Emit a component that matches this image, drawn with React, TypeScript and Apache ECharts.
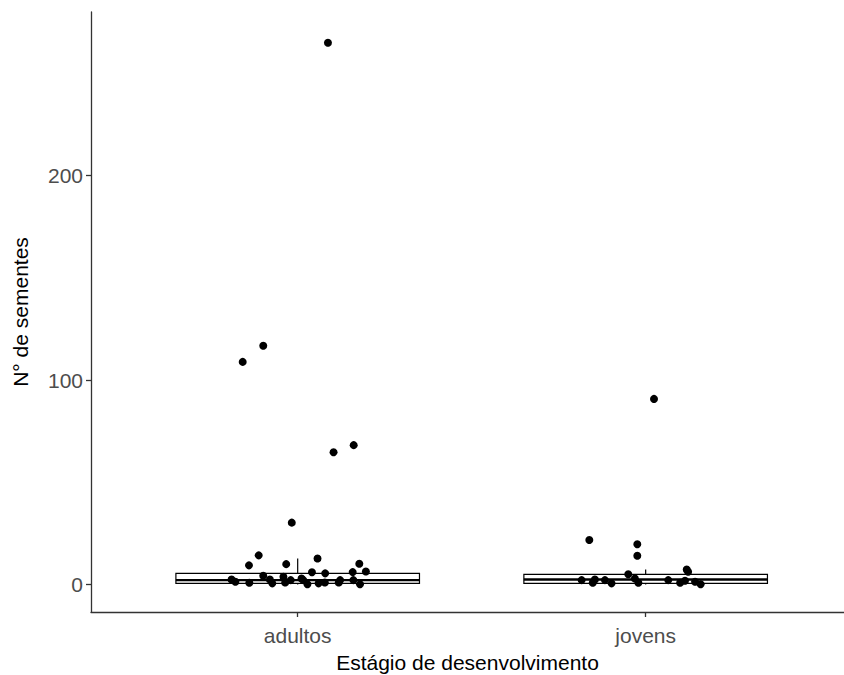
import React, { useEffect, useRef } from "react";
import * as echarts from "echarts";

const categories = ["adultos", "jovens"];
const yTicks = [0, 100, 200];

// box stats per category: [lowerWhisker, q1, median, q3, upperWhisker]
const boxStats = [
  [0, 0.6, 2.2, 5.5, 12.8],
  [0, 0.6, 2.5, 5.0, 7.4],
];

// jittered points: [x, value]
const adultosPoints = [
  [1.087, 265], [0.901, 116.8], [0.842, 108.9], [1.103, 64.7], [1.161, 68.2],
  [0.983, 30.3], [0.888, 14.3], [0.86, 9.4], [0.967, 10.0], [1.057, 12.8],
  [1.177, 10.2], [1.196, 6.4], [1.041, 6.0], [1.079, 5.5], [1.158, 6.1],
  [0.901, 4.3], [0.821, 1.4], [0.861, 0.9], [0.927, 0.6], [0.964, 1.0],
  [0.98, 2.2], [1.016, 2.2], [1.028, 0.2], [1.06, 0.6], [1.078, 1.0],
  [1.118, 1.0], [1.16, 2.2], [1.179, 0.2], [0.92, 2.5], [0.959, 3.8],
  [1.011, 3.0], [0.81, 2.5], [1.122, 2.2],
];
const jovensPoints = [
  [2.024, 90.8], [1.838, 21.8], [1.976, 19.7], [1.976, 14.1], [2.118, 7.4],
  [2.122, 6.3], [1.95, 5.1], [1.816, 2.2], [1.848, 0.9], [1.854, 2.5],
  [1.883, 2.2], [1.902, 0.6], [1.979, 0.9], [1.969, 3.0], [2.065, 2.2],
  [2.099, 0.9], [2.113, 1.9], [2.142, 1.4], [2.158, 0.2],
];

const BOX_HALF = 0.35;
const FONT = "Liberation Sans";

export default function App() {
  const ref = useRef<HTMLDivElement>(null);
  useEffect(() => {
    document.body.style.margin = "0";
    const chart = echarts.init(ref.current!, null, { renderer: "svg" });
    const boxData = boxStats.map((s, i) => [i + 1, ...s]);
    chart.setOption({
      animation: false,
      backgroundColor: "#ffffff",
      grid: { left: 91, right: 0, top: 12, bottom: 63, containLabel: false, outerBoundsMode: "none" },
      xAxis: {
        type: "value",
        min: 0.406,
        max: 2.57,
        name: "Estágio de desenvolvimento",
        nameLocation: "middle",
        nameGap: 40,
        nameTextStyle: { color: "#000", fontSize: 21, fontFamily: FONT },
        axisLine: { show: true, onZero: false, lineStyle: { color: "#333", width: 1.3 } },
        axisTick: { show: true, length: 5, customValues: [1, 2], lineStyle: { color: "#333", width: 1.3 } },
        axisLabel: {
          customValues: [1, 2],
          formatter: (v: number) => categories[Math.round(v) - 1] ?? "",
          color: "#4d4d4d",
          fontSize: 21,
          margin: 13,
          fontFamily: FONT,
        },
        splitLine: { show: false },
      },
      yAxis: {
        type: "value",
        min: -13.4,
        max: 280,
        name: "N° de sementes",
        nameLocation: "middle",
        nameGap: 60,
        nameRotate: 90,
        nameTextStyle: { color: "#000", fontSize: 21, fontFamily: FONT },
        axisLine: { show: true, onZero: false, lineStyle: { color: "#333", width: 1.3 } },
        axisTick: { show: true, length: 5, customValues: yTicks, lineStyle: { color: "#333", width: 1.3 } },
        axisLabel: {
          customValues: yTicks,
          color: "#4d4d4d",
          fontSize: 21,
          margin: 8,
          fontFamily: FONT,
        },
        splitLine: { show: false },
      },
      series: [
        {
          type: "custom",
          data: boxData,
          z: 1,
          renderItem: (params: any, api: any) => {
            const x = api.value(0);
            const lo = api.value(1);
            const q1 = api.value(2);
            const med = api.value(3);
            const q3 = api.value(4);
            const hi = api.value(5);
            const pL = api.coord([x - BOX_HALF, q3]);
            const pR = api.coord([x + BOX_HALF, q1]);
            const pMedL = api.coord([x - BOX_HALF, med]);
            const pMedR = api.coord([x + BOX_HALF, med]);
            const pHi = api.coord([x, hi]);
            const pQ3 = api.coord([x, q3]);
            const pLo = api.coord([x, lo]);
            const pQ1 = api.coord([x, q1]);
            const stroke = { stroke: "#000", lineWidth: 1.2 };
            return {
              type: "group",
              children: [
                { type: "line", shape: { x1: pHi[0], y1: pHi[1], x2: pQ3[0], y2: pQ3[1] }, style: stroke },
                { type: "line", shape: { x1: pLo[0], y1: pLo[1], x2: pQ1[0], y2: pQ1[1] }, style: stroke },
                {
                  type: "rect",
                  shape: { x: pL[0], y: pL[1], width: pR[0] - pL[0], height: pR[1] - pL[1] },
                  style: { fill: "#fff", stroke: "#000", lineWidth: 1.2 },
                },
                {
                  type: "line",
                  shape: { x1: pMedL[0], y1: pMedL[1], x2: pMedR[0], y2: pMedR[1] },
                  style: { stroke: "#000", lineWidth: 2.4 },
                },
              ],
            };
          },
        },
        {
          type: "scatter",
          data: adultosPoints,
          symbolSize: 8,
          itemStyle: { color: "#000", opacity: 1 },
          z: 3,
        },
        {
          type: "scatter",
          data: jovensPoints,
          symbolSize: 8,
          itemStyle: { color: "#000", opacity: 1 },
          z: 3,
        },
      ],
    });
    return () => chart.dispose();
  }, []);
  return (
    <div
      ref={ref}
      style={{ position: "absolute", left: 0, top: 0, width: 844, height: 675 }}
    />
  );
}
